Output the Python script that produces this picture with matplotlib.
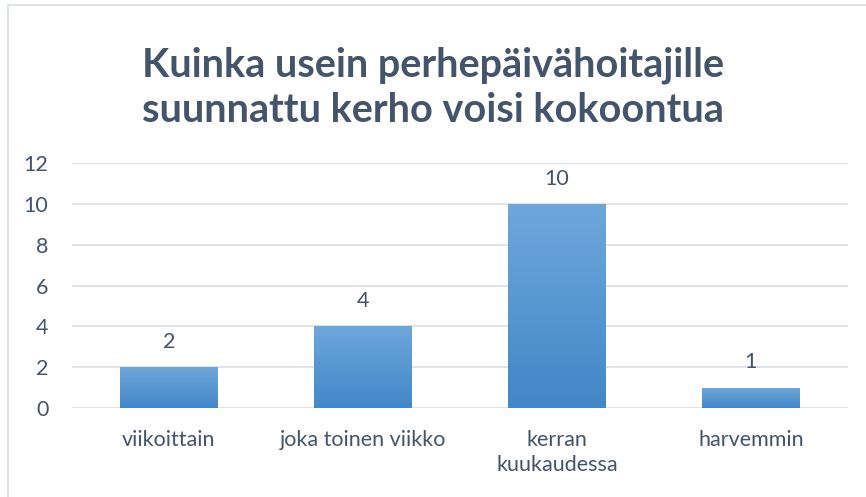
import matplotlib.pyplot as plt
import numpy as np
from matplotlib.colors import LinearSegmentedColormap
from matplotlib.patches import Rectangle

categories = ['viikoittain', 'joka toinen viikko', 'kerran\nkuukaudessa', 'harvemmin']
values = [2, 4, 10, 1]
title = 'Kuinka usein perhepäivähoitajille\nsuunnattu kerho voisi kokoontua'

text_color = '#44546A'
grid_color = '#D9DEE6'
plt.rcParams['font.family'] = ['Lato', 'DejaVu Sans']

fig = plt.figure(figsize=(8.66, 4.97), dpi=100)
ax = fig.add_axes([0.0831, 0.179, 0.896, 0.493])

x = np.arange(len(categories))
bars = ax.bar(x, values, width=0.505, color='#5B9BD5', zorder=2)

# vertical gradient on each bar, lighter at top
cmap = LinearSegmentedColormap.from_list('bar', ['#4287C8', '#6FA7DC'])
grad = np.linspace(0, 1, 256).reshape(-1, 1)
for b in bars:
    x0, y0 = b.get_x(), b.get_y()
    w, h = b.get_width(), b.get_height()
    im = ax.imshow(grad, cmap=cmap, origin='lower', aspect='auto',
                   extent=[x0, x0 + w, y0, y0 + h], zorder=3)
    im.set_clip_path(b)

for xi, v in zip(x, values):
    ax.annotate(str(v), (xi, v), xytext=(0, 11), textcoords='offset points',
                ha='center', va='bottom', fontsize=15.5, color=text_color)

ax.set_xlim(-0.5, len(categories) - 0.5)
ax.set_ylim(0, 12)
ax.set_yticks(range(0, 13, 2))
ax.set_xticks(x)
ax.set_xticklabels(categories, linespacing=1.3)
ax.yaxis.grid(True, color=grid_color, linewidth=1.2, zorder=0)
ax.set_axisbelow(True)
for s in ax.spines.values():
    s.set_visible(False)
ax.tick_params(axis='both', length=0, labelsize=15.5, colors=text_color)
ax.tick_params(axis='x', pad=16)
ax.tick_params(axis='y', pad=17)

fig.text(0.5, 1 - 122 / 497, title, ha='center', va='baseline', fontsize=28.5,
         fontweight='bold', color=text_color, linespacing=1.26)

# chart border
fig.add_artist(Rectangle((8 / 866, -0.01), 1.0, 1 - 5 / 497 + 0.01,
                         transform=fig.transFigure, fill=False,
                         edgecolor=grid_color, linewidth=1.2))

fig.savefig('out.png', dpi=100)
